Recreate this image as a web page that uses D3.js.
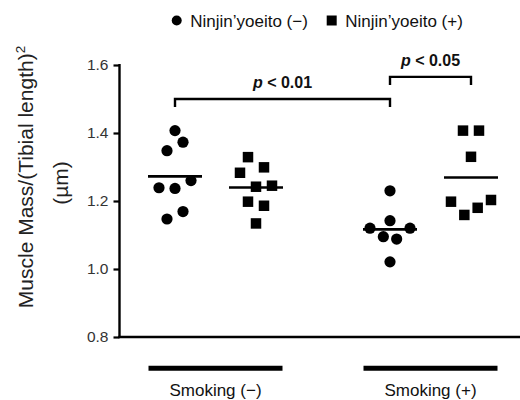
<!DOCTYPE html>
<html>
<head>
<meta charset="utf-8">
<script src="https://cdn.jsdelivr.net/npm/d3@7"></script>
<style>
  body { margin: 0; background: #fff; }
  svg { display: block; font-family: "Liberation Sans", Arial, sans-serif; }
</style>
</head>
<body>
<div id="chart"></div>
<script>
// values (order within an array = left-to-right inside a swarm row)
const smokingGroups = ["Smoking (\u2212)", "Smoking (+)"];
const ninjinGroups = ["Ninjin\u2019yoeito (\u2212)", "Ninjin\u2019yoeito (+)"];
const smokeNeg_ninjinNeg = [1.407, 1.348, 1.373, 1.239, 1.237, 1.260, 1.147, 1.169];
const smokeNeg_ninjinPos = [1.329, 1.299, 1.283, 1.242, 1.245, 1.198, 1.186, 1.134];
const smokePos_ninjinNeg = [1.230, 1.142, 1.120, 1.095, 1.088, 1.120, 1.021];
const smokePos_ninjinPos = [1.407, 1.407, 1.330, 1.198, 1.159, 1.180, 1.203];
const yTicks = [0.8, 1.0, 1.2, 1.4, 1.6];
const comparisons = [
  { from: 0, to: 2, level: 1.50, label: "0.01" },
  { from: 2, to: 3, level: 1.565, label: "0.05" }
];

const width = 520, height = 400;

const groups = [
  { smoke: 0, ninjin: 0, values: smokeNeg_ninjinNeg },
  { smoke: 0, ninjin: 1, values: smokeNeg_ninjinPos },
  { smoke: 1, ninjin: 0, values: smokePos_ninjinNeg },
  { smoke: 1, ninjin: 1, values: smokePos_ninjinPos }
];

const svg = d3.select("#chart").append("svg")
  .attr("width", width)
  .attr("height", height);

const y = d3.scaleLinear().domain([0.8, 1.6]).range([337, 65]);
const xOuter = d3.scalePoint().domain(smokingGroups).range([215.5, 430.5]);
const xInner = d3.scalePoint().domain(ninjinGroups).range([-40.5, 40.5]);

function groupX(g) {
  return xOuter(smokingGroups[g.smoke]) + xInner(ninjinGroups[g.ninjin]);
}

// simple prism-like swarm: bin from the bottom up, spread each bin sideways
function swarm(values) {
  const idx = values.map((v, i) => i).sort((a, b) => values[a] - values[b] || a - b);
  const offsets = new Array(values.length).fill(0);
  let bins = [], cur = null;
  idx.forEach(i => {
    if (cur && values[i] - values[cur[0]] <= 0.0451) cur.push(i);
    else { cur = [i]; bins.push(cur); }
  });
  bins.forEach(b => {
    b.sort((a, c) => a - c);
    const n = b.length;
    const step = n > 1 ? Math.min(16, 40 / (n - 1)) : 0;
    b.forEach((i, k) => { offsets[i] = (k - (n - 1) / 2) * step; });
  });
  return offsets;
}

// y axis
const yAxis = d3.axisLeft(y).tickValues(yTicks).tickFormat(d3.format(".1f")).tickSize(6).tickPadding(5);
const yg = svg.append("g").attr("transform", "translate(119.5,0)").call(yAxis);
yg.select(".domain").remove();
yg.selectAll(".tick line").attr("stroke", "#000").attr("stroke-width", 2.2);
yg.selectAll(".tick text")
  .attr("fill", "#333")
  .style("font-size", "15.5px")
  .style("font-family", "'Liberation Sans', Arial, sans-serif");

// axis lines
svg.append("line")
  .attr("x1", 119.5).attr("x2", 119.5)
  .attr("y1", y(1.6) - 1).attr("y2", y(0.8))
  .attr("stroke", "#000").attr("stroke-width", 2.4);
svg.append("line")
  .attr("x1", 118.3).attr("x2", width)
  .attr("y1", y(0.8)).attr("y2", y(0.8))
  .attr("stroke", "#000").attr("stroke-width", 2.4);

// y title
const yTitle = svg.append("text")
  .attr("transform", "translate(33,177) rotate(-90)")
  .attr("text-anchor", "middle")
  .style("font-size", "21px")
  .attr("fill", "#222");
yTitle.append("tspan").text("Muscle Mass/(Tibial length)");
yTitle.append("tspan").attr("dy", -8).style("font-size", "13.5px").text("2");
svg.append("text")
  .attr("transform", "translate(68,183) rotate(-90)")
  .attr("text-anchor", "middle")
  .style("font-size", "21px")
  .attr("fill", "#222")
  .text("(\u00b5m)");

// points
const circle = d3.symbol().type(d3.symbolCircle).size(Math.PI * 5.6 * 5.6);
const square = d3.symbol().type(d3.symbolSquare).size(10.5 * 10.5);

groups.forEach(g => {
  const cx = groupX(g);
  const offs = swarm(g.values);
  svg.append("g").selectAll("path")
    .data(g.values)
    .join("path")
    .attr("d", g.ninjin === 0 ? circle : square)
    .attr("transform", (d, i) => `translate(${cx + offs[i]},${y(d)})`)
    .attr("fill", "#000");

  const m = d3.mean(g.values);
  svg.append("line")
    .attr("x1", cx - 27).attr("x2", cx + 27)
    .attr("y1", y(m)).attr("y2", y(m))
    .attr("stroke", "#000").attr("stroke-width", 2.6);
});

// significance brackets
comparisons.forEach(c => {
  const x1 = groupX(groups[c.from]), x2 = groupX(groups[c.to]);
  const yy = y(c.level);
  svg.append("path")
    .attr("d", `M${x1},${yy + 8}V${yy}H${x2}V${yy + 8}`)
    .attr("fill", "none")
    .attr("stroke", "#000")
    .attr("stroke-width", 2.4);
  const t = svg.append("text")
    .attr("x", (x1 + x2) / 2)
    .attr("y", yy - 11)
    .attr("text-anchor", "middle")
    .style("font-size", "16px")
    .style("font-weight", "bold")
    .attr("fill", "#111");
  t.append("tspan").style("font-style", "italic").text("p");
  t.append("tspan").text(" < " + c.label);
});

// group bars under axis
smokingGroups.forEach(s => {
  const cx = xOuter(s);
  svg.append("line")
    .attr("x1", cx - 67).attr("x2", cx + 67)
    .attr("y1", 368.3).attr("y2", 368.3)
    .attr("stroke", "#000").attr("stroke-width", 5);
  svg.append("text")
    .attr("x", cx)
    .attr("y", 396)
    .attr("text-anchor", "middle")
    .style("font-size", "17px")
    .attr("fill", "#111")
    .text(s);
});

// legend
const legend = svg.append("g").attr("class", "legend");
const legendX = [176.7, 331.7];
ninjinGroups.forEach((n, i) => {
  legend.append("path")
    .attr("d", i === 0 ? d3.symbol().type(d3.symbolCircle).size(Math.PI * 25)() : d3.symbol().type(d3.symbolSquare).size(100)())
    .attr("transform", `translate(${legendX[i]},20.5)`)
    .attr("fill", "#000");
  legend.append("text")
    .attr("x", legendX[i] + 13.5)
    .attr("y", 26.5)
    .style("font-size", "17px")
    .attr("fill", "#111")
    .text(n);
});
</script>
</body>
</html>
